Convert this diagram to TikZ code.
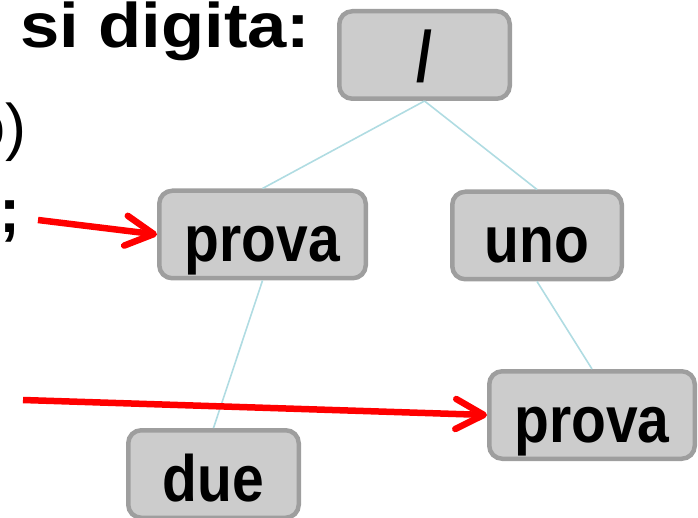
\documentclass[tikz,border=0pt]{standalone}
\usepackage{fontspec}
\setmainfont{Liberation Sans}
\usetikzlibrary{arrows.meta}
\definecolor{boxfill}{HTML}{CCCCCC}
\definecolor{boxline}{HTML}{9E9E9E}
\definecolor{edgeblue}{HTML}{B0DCE2}
\definecolor{pointerred}{HTML}{FF0000}
\begin{document}
\begin{tikzpicture}[x=1pt,y=-1pt,
  dirbox/.style={draw=boxline, fill=boxfill, line width=4.5pt, rounded corners=13pt,
    minimum height=87.5pt, text height=54pt, text depth=0pt, inner sep=0pt,
    font=\fontsize{57}{60}\selectfont\bfseries},
  treeedge/.style={draw=edgeblue, line width=1.6pt},
  pointer/.style={draw=pointerred, line width=6.5pt,
    -{Straight Barb[length=28pt,width=30pt,round]}},
  slidetext/.style={inner sep=0pt, font=\fontsize{63}{66}\selectfont}]
\useasboundingbox (0,0) rectangle (698,518);

% slide text on the left
\node[slidetext, anchor=base west] (title) at (20,48) {\bfseries\scalebox{1.12}[1]{si digita:}};
\node[slidetext, anchor=base east] (paren) at (27,149) {o)};
\node[slidetext, anchor=base east] (semi) at (21,233) {\bfseries ;};

% directory tree
\node[dirbox, minimum width=170.5pt] (root)   at (424.5,55)  {\scalebox{1}[1.25]{/}};
\node[dirbox, minimum width=206.5pt] (provaL) at (262.5,234.5) {\scalebox{1}[1.15]{prova}};
\node[dirbox, minimum width=169.5pt] (uno)    at (537,235.5) {\scalebox{1}[1.15]{uno}};
\node[dirbox, minimum width=205.5pt] (provaR) at (592,415)   {\scalebox{1}[1.15]{prova}};
\node[dirbox, minimum width=170.5pt] (due)    at (213.5,474) {\scalebox{1}[1.15]{due}};

\draw[treeedge] (root.south) -- (provaL.north);
\draw[treeedge] (root.south) -- (uno.north);
\draw[treeedge] (provaL.south) -- (due.north);
\draw[treeedge] (uno.south) -- (provaR.north);

% pointers
\coordinate (p1) at (38,220);
\coordinate (p2) at (23,400);
\draw[pointer] (p1) -- (provaL.west);
\draw[pointer] (p2) -- (provaR.west);
\end{tikzpicture}
\end{document}
